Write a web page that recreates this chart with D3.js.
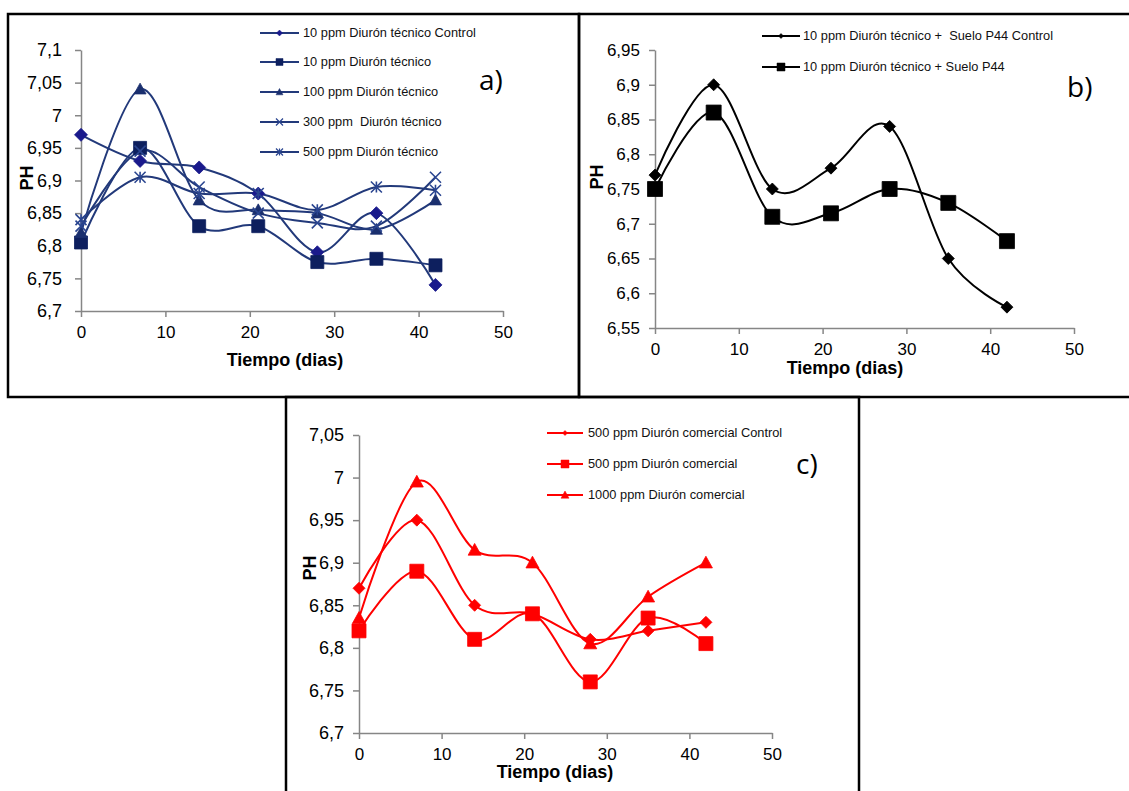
<!DOCTYPE html>
<html>
<head>
<meta charset="utf-8">
<script src="https://cdn.jsdelivr.net/npm/d3@7"></script>
<style>
    body { margin: 0; background: #fff; }
    svg { display: block; }
    .tick text { font-family: "Liberation Sans", Arial, sans-serif; fill: #000; }
    .axis path, .axis line { stroke: #868686; stroke-width: 1.5; }
    .legend-text { font-family: "Liberation Sans", Arial, sans-serif; font-size: 12.8px; fill: #111; white-space: pre; }
    .axis-title { font-family: "Liberation Sans", Arial, sans-serif; font-weight: bold; font-size: 18px; fill: #000; }
    .panel-label { font-family: "Open Sans", "Noto Sans", sans-serif; font-size: 28px; fill: #000; }
</style>
</head>
<body>
<div id="chart"></div>
<script>
// sampling days (shared by every panel)
const days = [0, 7, 14, 21, 28, 35, 42];

// panel a) - technical diuron
const namesA = ["10 ppm Diurón técnico Control", "10 ppm Diurón técnico", "100 ppm Diurón técnico",
    "300 ppm  Diurón técnico", "500 ppm Diurón técnico"];
const ctrl10A = [6.97, 6.93, 6.92, 6.88, 6.79, 6.85, 6.74];
const tec10A = [6.805, 6.95, 6.83, 6.83, 6.775, 6.78, 6.77];
const tec100A = [6.82, 7.04, 6.87, 6.855, 6.85, 6.825, 6.87];
const tec300A = [6.83, 6.945, 6.89, 6.85, 6.835, 6.83, 6.905];
const tec500A = [6.84, 6.905, 6.88, 6.88, 6.855, 6.89, 6.885];
const yTicksA = [6.7, 6.75, 6.8, 6.85, 6.9, 6.95, 7, 7.05, 7.1];

// panel b) - technical diuron + soil P44
const namesB = ["10 ppm Diurón técnico +  Suelo P44 Control", "10 ppm Diurón técnico + Suelo P44"];
const ctrlB = [6.77, 6.9, 6.75, 6.78, 6.84, 6.65, 6.58];
const sueloB = [6.75, 6.86, 6.71, 6.715, 6.75, 6.73, 6.675];
const yTicksB = [6.55, 6.6, 6.65, 6.7, 6.75, 6.8, 6.85, 6.9, 6.95];

// panel c) - commercial diuron
const namesC = ["500 ppm Diurón comercial Control", "500 ppm Diurón comercial", "1000 ppm Diurón comercial"];
const ctrl500C = [6.87, 6.95, 6.85, 6.84, 6.81, 6.82, 6.83];
const com500C = [6.82, 6.89, 6.81, 6.84, 6.76, 6.835, 6.805];
const com1000C = [6.835, 6.995, 6.915, 6.9, 6.805, 6.86, 6.9];
const yTicksC = [6.7, 6.75, 6.8, 6.85, 6.9, 6.95, 7, 7.05];

const xTicks = [0, 10, 20, 30, 40, 50];

const W = 1129, H = 791;

const svg = d3.select("#chart").append("svg")
    .attr("width", W)
    .attr("height", H);

svg.append("rect").attr("width", W).attr("height", H).attr("fill", "#fff");

// panel frames
svg.append("rect").attr("x", 8).attr("y", 14).attr("width", 571).attr("height", 383)
    .attr("fill", "none").attr("stroke", "#000").attr("stroke-width", 2.5);
svg.append("rect").attr("x", 579).attr("y", 14).attr("width", 570).attr("height", 383)
    .attr("fill", "none").attr("stroke", "#000").attr("stroke-width", 2.5);
svg.append("rect").attr("x", 286).attr("y", 397).attr("width", 573).attr("height", 420)
    .attr("fill", "none").attr("stroke", "#000").attr("stroke-width", 2.5);

// marker shapes
function markerPath(type, s) {
    let h = s / 2;
    if (type === "diamond") return `M0,${-h}L${h},0L0,${h}L${-h},0Z`;
    if (type === "square") return `M${-h},${-h}H${h}V${h}H${-h}Z`;
    if (type === "triangle") return `M0,${-h}L${h},${h * 0.8}L${-h},${h * 0.8}Z`;
    if (type === "times") return `M${-h},${-h}L${h},${h}M${-h},${h}L${h},${-h}`;
    if (type === "star") return `M${-h},${-h}L${h},${h}M${-h},${h}L${h},${-h}M0,${-h}V${h}`;
    return "";
}

function fmt(d) {
    return String(+d.toFixed(2)).replace(".", ",");
}

/* * * * * * * * * * * * * *
*      class phPanel       *
* * * * * * * * * * * * * */
class phPanel {
    constructor(cfg) {
        this.cfg = cfg;
        this.initVis();
    }

    initVis() {
        let vis = this, c = vis.cfg;

        vis.g = svg.append("g");

        vis.x = d3.scaleLinear().domain([0, 50]).range([c.left, c.right]);
        vis.y = d3.scaleLinear().domain([c.yTicks[0], c.yTicks[c.yTicks.length - 1]]).range([c.bottom, c.top]);

        vis.g.append("g")
            .attr("class", "axis")
            .attr("transform", `translate(0,${c.bottom})`)
            .call(d3.axisBottom(vis.x).tickValues(xTicks).tickSize(6).tickSizeOuter(0).tickPadding(9))
            .selectAll("text").style("font-size", c.xFont + "px");

        vis.g.append("g")
            .attr("class", "axis")
            .attr("transform", `translate(${c.left},0)`)
            .call(d3.axisLeft(vis.y).tickValues(c.yTicks).tickFormat(fmt).tickSize(6).tickSizeOuter(0).tickPadding(c.yPad))
            .selectAll("text").style("font-size", c.yFont + "px");

        vis.g.append("text")
            .attr("class", "axis-title")
            .attr("x", c.xTitle[0]).attr("y", c.xTitle[1])
            .attr("text-anchor", "middle")
            .text("Tiempo (dias)");

        vis.g.append("text")
            .attr("class", "axis-title")
            .attr("transform", `translate(${c.yTitle[0]},${c.yTitle[1]}) rotate(-90)`)
            .attr("text-anchor", "middle")
            .attr("dy", "0.35em")
            .text("PH");

        vis.g.append("text")
            .attr("class", "panel-label")
            .attr("x", c.label[0]).attr("y", c.label[1])
            .text(c.labelText);

        vis.updateVis();
    }

    updateVis() {
        let vis = this, c = vis.cfg;

        let line = d3.line()
            .x((d, i) => vis.x(days[i]))
            .y(d => vis.y(d))
            .curve(d3.curveCardinal.tension(0));

        c.series.forEach(function (s) {
            vis.g.append("path")
                .attr("d", line(s.values))
                .attr("fill", "none")
                .attr("stroke", c.lineColor)
                .attr("stroke-width", 2);
        });

        c.series.forEach(function (s) {
            let stroked = s.marker === "times" || s.marker === "star";
            vis.g.selectAll(null)
                .data(s.values)
                .enter()
                .append("path")
                .attr("transform", (d, i) => `translate(${vis.x(days[i])},${vis.y(d)})`)
                .attr("d", markerPath(s.marker, s.size))
                .attr("fill", stroked ? "none" : s.color)
                .attr("stroke", s.color)
                .attr("stroke-width", stroked ? 1.6 : 0.8);
        });

        // legend
        c.series.forEach(function (s, i) {
            let ly = c.legend.rows[i];
            let lg = vis.g.append("g");
            lg.append("line")
                .attr("x1", c.legend.x1).attr("x2", c.legend.x2)
                .attr("y1", ly).attr("y2", ly)
                .attr("stroke", c.lineColor).attr("stroke-width", 2);
            let stroked = s.marker === "times" || s.marker === "star";
            lg.append("path")
                .attr("transform", `translate(${(c.legend.x1 + c.legend.x2) / 2},${ly})`)
                .attr("d", markerPath(s.marker, s.legendSize))
                .attr("fill", stroked ? "none" : s.color)
                .attr("stroke", s.color)
                .attr("stroke-width", stroked ? 1.2 : 0.5);
            lg.append("text")
                .attr("class", "legend-text")
                .attr("x", c.legend.tx).attr("y", ly)
                .attr("dy", "0.35em")
                .text(s.name);
        });
    }
}

new phPanel({
    left: 81, right: 503, top: 50, bottom: 311,
    yTicks: yTicksA, yFont: 18, xFont: 17, yPad: 13,
    xTitle: [285, 366], yTitle: [27, 178],
    label: [479, 90], labelText: "a)",
    lineColor: "#22397a",
    legend: {x1: 260, x2: 299, tx: 303, rows: [33, 62, 92, 122, 152]},
    series: [
        {name: namesA[0], values: ctrl10A, marker: "diamond", size: 13, legendSize: 6, color: "#1a1a8c"},
        {name: namesA[1], values: tec10A, marker: "square", size: 13, legendSize: 7, color: "#0d1f5e"},
        {name: namesA[2], values: tec100A, marker: "triangle", size: 12, legendSize: 7, color: "#1a2f6e"},
        {name: namesA[3], values: tec300A, marker: "times", size: 11, legendSize: 7, color: "#2a4590"},
        {name: namesA[4], values: tec500A, marker: "star", size: 11, legendSize: 7, color: "#2a4590"}
    ]
});

new phPanel({
    left: 655, right: 1074, top: 50, bottom: 328,
    yTicks: yTicksB, yFont: 17, xFont: 17, yPad: 9,
    xTitle: [845, 374], yTitle: [597, 177],
    label: [1067, 97], labelText: "b)",
    lineColor: "#000",
    legend: {x1: 762, x2: 800, tx: 803, rows: [36, 67]},
    series: [
        {name: namesB[0], values: ctrlB, marker: "diamond", size: 12, legendSize: 5, color: "#000"},
        {name: namesB[1], values: sueloB, marker: "square", size: 15, legendSize: 8, color: "#000"}
    ]
});

new phPanel({
    left: 359, right: 772, top: 435, bottom: 733,
    yTicks: yTicksC, yFont: 18, xFont: 17, yPad: 9,
    xTitle: [555, 778], yTitle: [310, 568],
    label: [796, 474], labelText: "c)",
    lineColor: "#ff0000",
    legend: {x1: 547, x2: 583, tx: 588, rows: [433, 464, 495]},
    series: [
        {name: namesC[0], values: ctrl500C, marker: "diamond", size: 12, legendSize: 5, color: "#ff0000"},
        {name: namesC[1], values: com500C, marker: "square", size: 14, legendSize: 8, color: "#ff0000"},
        {name: namesC[2], values: com1000C, marker: "triangle", size: 13, legendSize: 8, color: "#ff0000"}
    ]
});
</script>
</body>
</html>
